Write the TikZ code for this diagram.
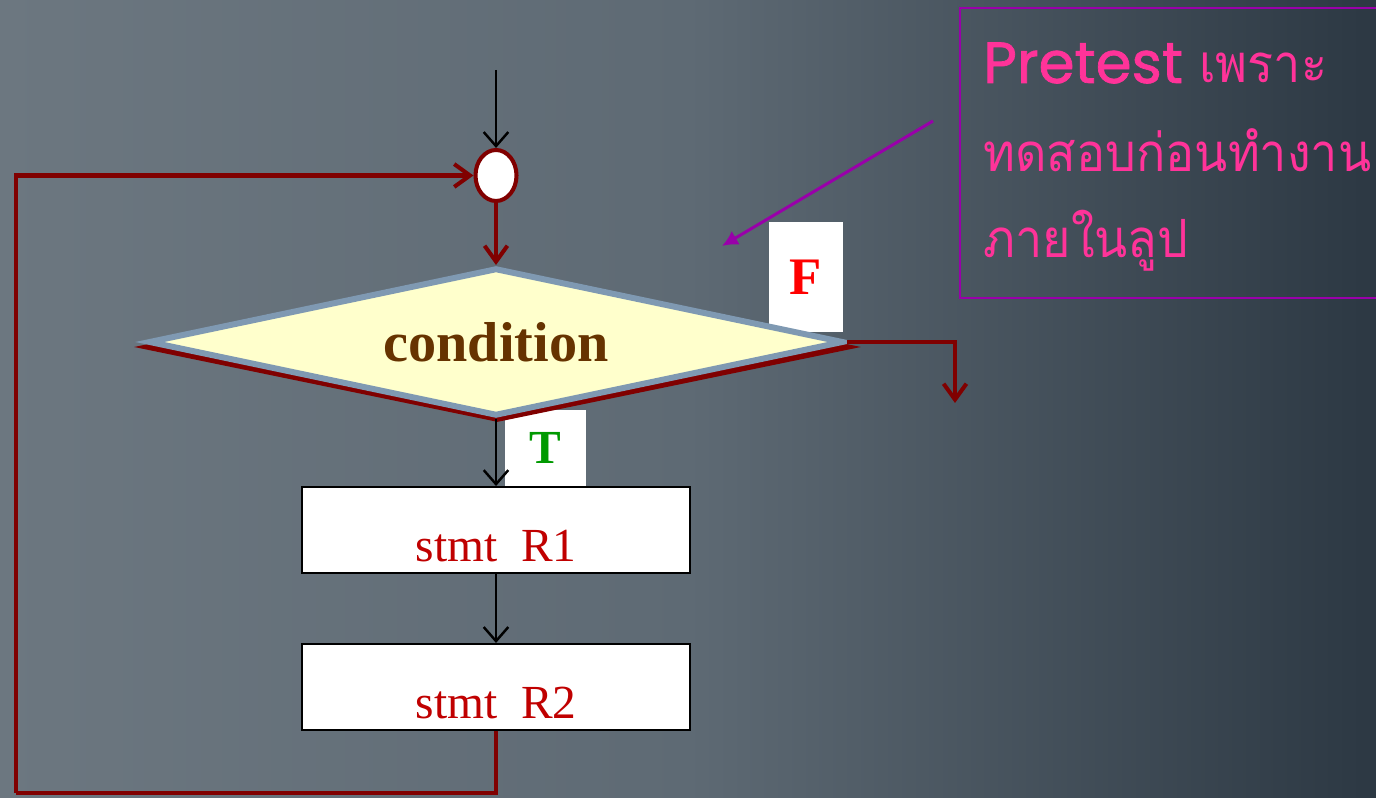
\documentclass[tikz,border=0pt]{standalone}
\usepackage{fontspec}
\setmainfont{Liberation Serif}
\newfontfamily\thaifont[Script=Thai, FakeStretch=0.92]{Loma}
\newfontfamily\geofont[FakeBold=1.2]{Poppins}
\usepackage{xcolor}
\usetikzlibrary{shapes.geometric, arrows.meta, positioning}

\definecolor{bgleft}{RGB}{108,119,128}
\definecolor{bgmid}{RGB}{94,106,116}
\definecolor{bgright}{RGB}{44,56,67}
\definecolor{loopred}{RGB}{128,0,0}
\definecolor{textred}{RGB}{192,0,0}
\definecolor{condblue}{RGB}{127,153,178}
\definecolor{condfill}{RGB}{255,255,204}
\definecolor{condtext}{RGB}{102,51,0}
\definecolor{notepink}{RGB}{255,51,153}
\definecolor{notepurple}{RGB}{153,0,170}
\definecolor{tgreen}{RGB}{0,153,0}

\begin{document}
\begin{tikzpicture}[
    stmtbox/.style={draw=black, line width=1.1pt, rectangle, fill=white, minimum width=7.76cm, minimum height=1.72cm, text height=1.28cm, text depth=0pt, font=\fontsize{27}{30}\selectfont, text=textred},
    labelbox/.style={rectangle, fill=white, inner sep=0pt},
    merge/.style={draw=loopred, ellipse, line width=2.3pt, fill=white, minimum width=0.82cm, minimum height=1.02cm, inner sep=0pt},
    black arrow/.style={-{Straight Barb[length=8pt,width=14pt]}, draw=black, line width=1.4pt},
    red arrow/.style={-{Straight Barb[length=9pt,width=13pt]}, draw=loopred, line width=2.3pt},
    note arrow/.style={-{Latex[length=9pt,width=9pt]}, draw=notepurple, line width=1.7pt},
    note text/.style={anchor=base west, inner sep=0pt, text=notepink}
]

% Background
\useasboundingbox (0,0) rectangle (27.52,15.94);
\shade[left color=bgleft, right color=bgright, middle color=bgmid] (0,0) rectangle (27.52,15.94);

% Label boxes (under the decision)
\node (fbox) [labelbox, minimum width=1.48cm, minimum height=2.2cm] at (16.12,10.40) {};
\node (tbox) [labelbox, minimum width=1.62cm, minimum height=1.52cm] at (10.91,6.98) {};
\node [text=red, font=\fontsize{30}{32}\selectfont\bfseries] at (fbox.center) {F};
\node [text=tgreen, font=\fontsize{27}{30}\selectfont\bfseries] at (tbox.center) {T};

% Nodes
\node (merge) [merge] at (9.92,12.43) {};
\node (condshade) [diamond, fill=loopred, inner sep=0pt, minimum width=14.54cm, minimum height=3.0cm] at (9.95,9.0) {};
\node (cond) [diamond, draw=condblue, line width=3.4pt, fill=condfill, aspect=4.7, inner sep=0pt, minimum width=13.9cm, minimum height=2.96cm, text=condtext, font=\fontsize{32}{34}\selectfont\bfseries] at (9.92,9.10) {condition};
\node (r1) [stmtbox] at (9.92,5.34) {stmt\ \ R1};
\node (r2) [stmtbox, below=1.38cm of r1] {stmt\ \ R2};

% Note
\draw [notepurple, line width=1.1pt] (27.6,15.78) -- (19.20,15.78) -- (19.20,9.98) -- (27.6,9.98);
\node (note1) [note text] at (19.66,14.28) {{\geofont\fontsize{33}{36}\selectfont Pretest}{\thaifont\fontsize{30}{34}\selectfont\ เพราะ}};
\node (note2) [note text] at (19.66,12.50) {\thaifont\fontsize{30}{34}\selectfont ทดสอบก่อนทำงาน};
\node (note3) [note text] at (19.66,10.78) {\thaifont\fontsize{30}{34}\selectfont ภายในลูป};

\coordinate (entry) at (9.92,14.54);
\coordinate (loopcorner) at (0.32,0.08);
\coordinate (fexit) at (19.10,7.88);
\coordinate (notetail) at (18.66,13.52);
\coordinate (notetip) at (14.44,11.02);

% Paths
\draw [black arrow] (entry) -- (merge.north);
\draw [red arrow] (merge.south) -- (cond.north);
\draw [black arrow] (cond.south) -- (r1.north);
\draw [black arrow] (r1) -- (r2);
\draw [loopred, line width=2.3pt] (r2.south) |- (loopcorner);
\draw [red arrow] (loopcorner) |- (merge.west);
\draw [red arrow] (cond.east) -| (fexit);
\draw [note arrow] (notetail) -- (notetip);

\end{tikzpicture}
\end{document}
